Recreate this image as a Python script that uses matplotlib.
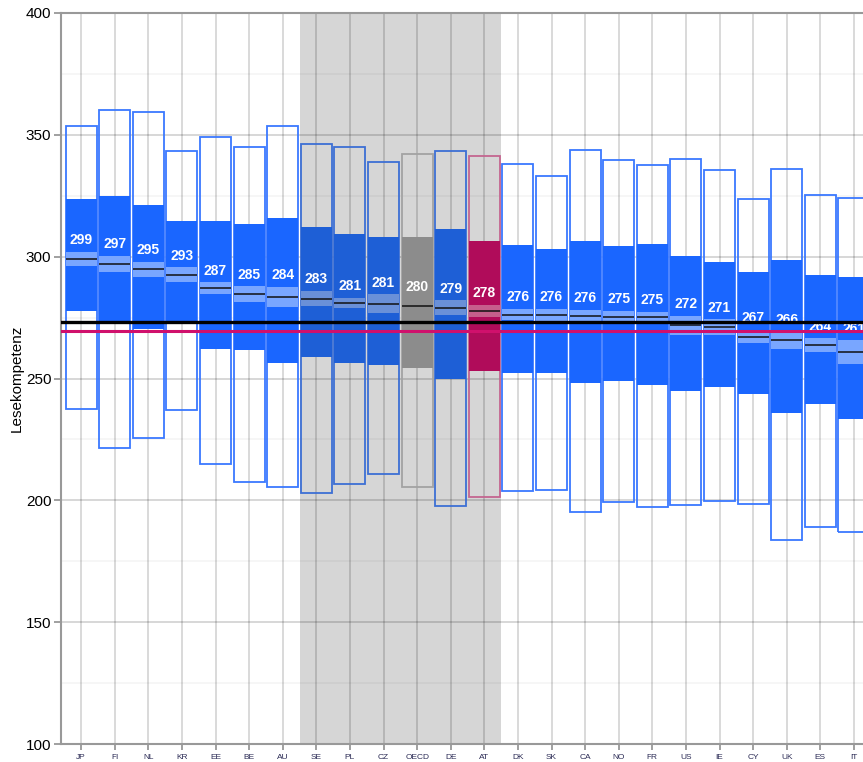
#!/usr/bin/env python3

import matplotlib
matplotlib.use('Agg')
import matplotlib.pyplot as plt
import numpy as np

plt.rcParams['font.family'] = ['Liberation Sans', 'DejaVu Sans']

countries = ['JP', 'FI', 'NL', 'KR', 'EE', 'BE', 'AU', 'SE', 'PL', 'CZ', 'OECD', 'DE',
             'AT', 'DK', 'SK', 'CA', 'NO', 'FR', 'US', 'IE', 'CY', 'UK', 'ES', 'IT']
means = [299, 297, 295, 293, 287, 285, 284, 283, 281, 281, 280, 279,
         278, 276, 276, 276, 275, 275, 272, 271, 267, 266, 264, 261]
mean_pos = [299.0, 297.0, 294.8, 292.6, 287.0, 284.7, 283.5, 282.8, 281.0, 280.6, 279.6, 279.0,
            277.7, 276.2, 276.2, 275.8, 275.4, 275.2, 271.8, 271.0, 267.2, 265.7, 263.6, 260.8]
half_ci = [2.9, 3.4, 3.0, 3.0, 2.5, 3.1, 4.2, 3.1, 2.0, 3.9, 3.3, 3.1,
           2.6, 2.3, 2.4, 2.4, 2.3, 2.1, 3.8, 3.3, 2.7, 3.7, 2.9, 4.8]
p5 = [237.3, 221.6, 225.4, 236.9, 214.8, 207.4, 205.6, 202.9, 206.7, 210.7, 205.6, 197.7,
      201.4, 203.7, 204.1, 195.3, 199.2, 197.3, 197.9, 199.6, 198.3, 183.8, 188.9, 186.9]
p25 = [277.7, 273.0, 270.3, 272.8, 262.0, 261.5, 256.2, 258.9, 256.2, 255.4, 254.3, 250.0,
       253.0, 252.1, 252.4, 248.3, 249.0, 247.4, 244.7, 246.7, 243.6, 236.0, 239.5, 233.4]
p75 = [323.8, 325.1, 321.0, 314.6, 314.6, 313.4, 315.8, 312.3, 309.1, 308.2, 308.2, 311.2,
       306.4, 304.9, 303.1, 306.4, 304.3, 305.3, 300.4, 297.7, 293.6, 298.5, 292.5, 291.5]
p95 = [353.7, 360.0, 359.3, 343.3, 349.1, 344.9, 353.7, 346.4, 344.9, 338.8, 342.2, 343.3,
       341.5, 338.1, 333.1, 343.7, 339.5, 337.6, 339.9, 335.4, 323.6, 335.8, 325.4, 323.9]

int_average = 273.2   # black reference line
at_line = 269.6       # magenta reference line
shaded = ('SE', 'AT')


def colors_for(name, in_shade):
    # fill, band, outline
    if name == 'OECD':
        return '#8c8c8c', '#8c8c8c', '#a3a3a3'
    if name == 'AT':
        return '#b00c5a', '#c65f8c', '#c46690'
    if in_shade:
        return '#1e5fd6', '#6a90d8', '#3d6fd4'
    return '#1a66ff', '#79a6ff', '#3a78ff'
#-- colors_for


def main():
    x = np.arange(len(countries))
    i0, i1 = countries.index(shaded[0]), countries.index(shaded[1])
    w = 0.92

    figure = plt.figure(figsize=(8.63, 7.62), dpi=100)
    axis = figure.add_axes([61 / 863, 1 - 744 / 762, 802 / 863, 731 / 762])

    axis.axvspan(i0 - 0.5, i1 + 0.5, color='#d6d6d6', zorder=0, lw=0)

    for xi in x:
        axis.axvline(xi, color='black', alpha=0.16, lw=1.3, zorder=0.5)
    for yv in range(150, 400, 50):
        axis.axhline(yv, color='black', alpha=0.17, lw=1.3, zorder=0.5)
    for yv in range(125, 400, 50):
        axis.axhline(yv, color='black', alpha=0.04, lw=1.3, zorder=0.5)

    for i, name in enumerate(countries):
        in_shade = i0 <= i <= i1
        fill, band, edge = colors_for(name, in_shade)
        axis.bar(i, p95[i] - p5[i], bottom=p5[i], width=w, fill=False,
                 edgecolor=edge, lw=1.3, zorder=1)
        axis.bar(i, p75[i] - p25[i], bottom=p25[i], width=w, color=fill,
                 lw=0, zorder=2)
        axis.bar(i, 2 * half_ci[i], bottom=mean_pos[i] - half_ci[i], width=w,
                 color=band, lw=0, zorder=3)
        axis.hlines(mean_pos[i], i - w / 2, i + w / 2, color='#111111', lw=1.1, zorder=4)
        axis.text(i, mean_pos[i] + half_ci[i] + 4.8, str(means[i]), color='white',
                  ha='center', va='center', fontsize=10, fontweight='bold', zorder=5)

    axis.axhline(int_average, color='black', lw=2.4, zorder=6)
    axis.axhline(at_line, color='#d0106c', lw=2.2, zorder=6)

    axis.set_xlim(-0.6, 23.27)
    axis.set_ylim(100, 400)
    axis.set_yticks(range(100, 401, 50))
    axis.set_xticks(x)
    axis.set_xticklabels(countries, fontsize=6, color='#2b2b55')
    axis.tick_params(axis='y', labelsize=11, length=5, width=1.3, color='#999999', pad=2)
    axis.tick_params(axis='x', length=4, width=1.3, color='#999999', pad=3)

    for side in ('left', 'bottom', 'top'):
        axis.spines[side].set_color('#999999')
        axis.spines[side].set_linewidth(1.5)
    axis.spines['right'].set_visible(False)

    axis.set_ylabel('Lesekompetenz', fontsize=11)
    axis.yaxis.set_label_coords(-0.047, 0.5)

    figure.savefig('out.png', dpi=100)
    return 0
#-- main


if __name__ == '__main__':
    main()
